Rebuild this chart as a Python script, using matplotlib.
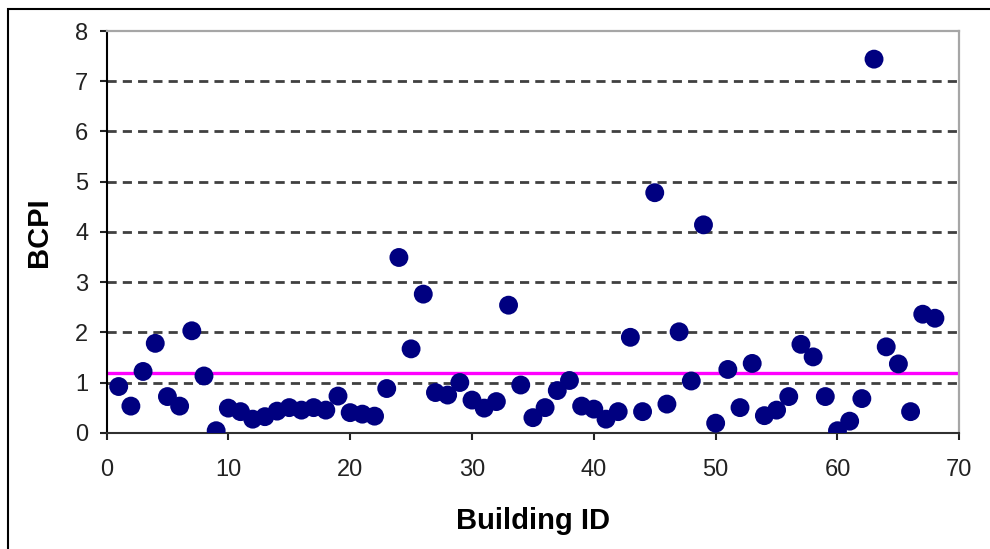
import matplotlib
matplotlib.use('Agg')
import matplotlib.pyplot as plt
from matplotlib.patches import Rectangle

plt.rcParams['font.family'] = ['Liberation Sans', 'DejaVu Sans']

# building ids and BCPI values
building_id = list(range(1, 69))
bcpi = [0.92, 0.53, 1.22, 1.78, 0.72, 0.53, 2.03, 1.13, 0.04, 0.49,
        0.42, 0.27, 0.32, 0.43, 0.50, 0.45, 0.50, 0.45, 0.73, 0.40,
        0.37, 0.33, 0.88, 3.49, 1.67, 2.76, 0.80, 0.75, 1.00, 0.65,
        0.49, 0.62, 2.54, 0.95, 0.30, 0.50, 0.84, 1.04, 0.53, 0.47,
        0.27, 0.42, 1.90, 0.42, 4.78, 0.57, 2.01, 1.03, 4.14, 0.19,
        1.26, 0.50, 1.38, 0.34, 0.45, 0.72, 1.76, 1.51, 0.72, 0.04,
        0.23, 0.68, 7.44, 1.71, 1.37, 0.42, 2.36, 2.28]
threshold = 1.18

x_ticks = [0, 10, 20, 30, 40, 50, 60, 70]
y_ticks = [0, 1, 2, 3, 4, 5, 6, 7, 8]

fig = plt.figure(figsize=(9.9, 5.49), dpi=100)
ax = fig.add_axes([0.1076, 0.2118, 0.8614, 0.7317])

# dashed horizontal gridlines
for yv in y_ticks[1:-1]:
    ax.axhline(yv, color='#404040', lw=2.0, linestyle=(0, (3.3, 2.2)), zorder=1)

ax.axhline(threshold, color='#ff00ff', lw=2.4, zorder=2)
ax.scatter(building_id, bcpi, s=185, color='#000080', edgecolors='none', zorder=3)

ax.set_xlim(0, 70)
ax.set_ylim(0, 8)
ax.set_xticks(x_ticks)
ax.set_yticks(y_ticks)

ax.spines['top'].set_color('#a6a6a6')
ax.spines['right'].set_color('#a6a6a6')
ax.spines['top'].set_linewidth(1.6)
ax.spines['right'].set_linewidth(1.6)
ax.spines['left'].set_color('black')
ax.spines['left'].set_linewidth(1.5)
ax.spines['bottom'].set_color('#303030')
ax.spines['bottom'].set_linewidth(1.5)

ax.tick_params(axis='y', direction='out', length=5, width=1.5, pad=8,
               labelsize=17, colors='#222222')
ax.tick_params(axis='x', direction='out', length=5, width=1.5, pad=14,
               labelsize=17, colors='#222222')

ax.set_xlabel('Building ID', fontsize=21, fontweight='bold', labelpad=19)
ax.set_ylabel('BCPI', fontsize=21, fontweight='bold', labelpad=16)

# outer frame of the picture
fig.patches.append(Rectangle((8 / 990, -0.1), 1.2, 1 - 9 / 549 + 0.1,
                             transform=fig.transFigure, fill=False,
                             edgecolor='black', lw=1.5))

fig.savefig('out.png', dpi=100)
